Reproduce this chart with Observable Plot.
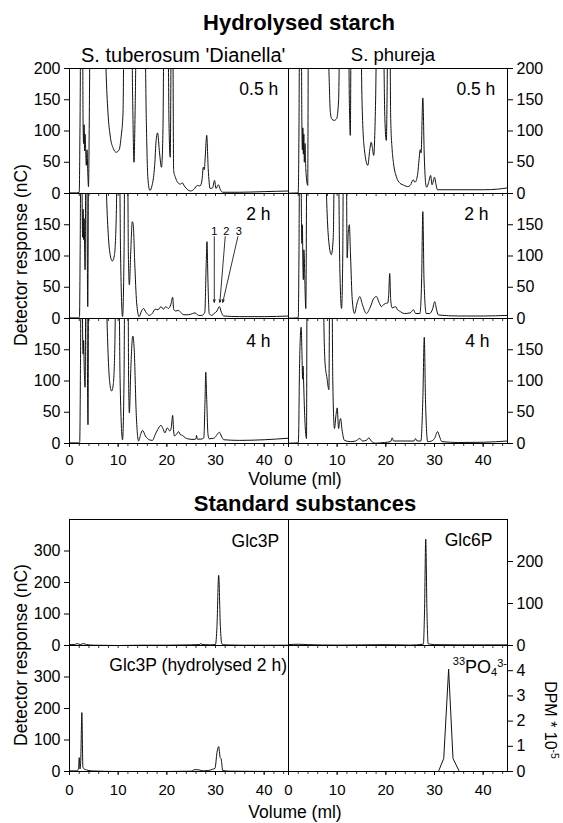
<!DOCTYPE html>
<html><head><meta charset="utf-8">
<script src="https://cdn.jsdelivr.net/npm/d3@7"></script>
<script src="https://cdn.jsdelivr.net/npm/@observablehq/plot@0.6"></script>
<style>
body{margin:0;background:#fff;}
#root{position:relative;width:563px;height:823px;overflow:hidden;font-family:"Liberation Sans",Arial,Helvetica,sans-serif;color:#000;background:#fff;}
.abs{position:absolute;white-space:nowrap;line-height:1;}
.abs sup{font-size:0.65em;vertical-align:0.55em;line-height:0;}
</style></head><body><div id="root"></div>
<script>
// ---------- data ----------
const volumeTicks = [0, 10, 20, 30, 40];
const minorTicks = [0, 2, 4, 6, 8, 10, 12, 14, 16, 18, 20, 22, 24, 26, 28, 30, 32, 34, 36, 38, 40, 42, 44];
const topYTicksFirst = [0, 50, 100, 150, 200];
const topYTicks = [0, 50, 100, 150];
const ncTicksLeft = [0, 100, 200, 300];
const ncTicksGlc6P = [0, 100, 200];
const dpmTicks = [0, 1, 2, 3, 4];

// S. tuberosum 'Dianella', 0.5 h
const tub05X = [0,1.5,2.0,2.15,2.35,2.65,2.8,2.9,3.0,3.1,3.2,3.3,3.45,3.6,3.75,3.9,4.1,4.25,4.4,7.2,7.5,7.9,8.4,9.0,9.6,10.2,10.6,11.0,11.25,11.5,12.7,13.0,13.25,13.5,13.8,15.4,15.8,16.1,16.5,17.0,17.5,17.8,18.1,18.5,18.9,19.2,19.45,20.2,20.45,20.7,20.95,21.2,21.4,21.8,22.2,22.8,23.2,23.6,24.3,24.9,25.6,26.3,26.8,27.2,27.5,27.7,27.9,28.2,28.5,28.9,29.4,29.8,30.1,30.6,31.0,31.5,35,40,45];
const tub05Y = [1,1,2,100,300,300,108,80,110,68,95,76,45,70,35,11,150,300,300,300,200,130,90,72,66,70,90,130,300,300,300,140,50,140,300,300,110,25,5,14,45,85,97,65,42,100,300,300,110,58,300,300,37,25,18,15,17,12,6,4,7,13,12,20,42,38,60,93,40,8,9,21,8,14,6,2,2,3,4];
// S. tuberosum 'Dianella', 2 h
const tub2X = [0,1.8,2.05,2.2,2.35,2.55,2.6,2.7,2.8,2.9,3.0,3.2,3.4,3.5,3.75,3.95,7.3,7.6,8.0,8.4,8.8,9.2,9.6,9.9,10.2,10.5,10.9,11.2,11.4,11.9,12.1,12.3,12.6,12.9,13.1,13.4,13.8,14.3,14.8,15.2,15.7,16.4,17.0,17.6,18.2,18.8,19.3,19.8,20.3,20.8,21.2,21.4,21.8,22.4,22.8,23.5,24.5,25.3,25.8,26.5,27.2,27.8,28.1,28.25,28.45,28.7,29.2,29.7,30.3,30.8,31.2,31.7,35,40,45];
const tub2Y = [1,1,2,120,300,300,185,130,175,126,160,78,300,300,19,300,300,200,130,100,92,100,160,300,300,100,3,100,300,300,100,54,110,155,150,90,25,3,12,16,10,5,8,15,14,19,15,19,16,22,34,15,12,13,10,6,6,8,9,5,5,10,90,123,60,8,5,8,12,19,10,4,3,3,4];
// S. tuberosum 'Dianella', 4 h
const tub4X = [0,1.9,2.1,2.25,2.4,2.6,2.7,2.8,2.9,3.0,3.2,3.4,3.5,3.8,3.95,7.4,7.7,8.0,8.3,8.66,9.0,9.3,9.6,10.1,10.4,10.9,11.2,11.4,12.0,12.15,12.3,12.6,13.0,13.3,13.7,14.2,14.6,15.0,15.6,16.4,17.05,17.6,18.1,18.8,19.2,19.6,20.1,20.6,20.9,21.2,21.4,21.6,22.0,22.4,22.8,23.2,23.8,24.3,25.6,26.0,26.1,26.25,27.0,27.6,27.85,28.0,28.2,28.45,28.7,29.3,29.8,30.3,30.8,31.2,31.7,35,40,45];
const tub4Y = [1,1,2,120,300,300,172,143,165,130,90,300,300,30,300,300,200,130,95,84,95,150,300,300,100,6,100,300,300,100,49,120,172,150,50,4,14,21,12,6,5,14,22,29,24,17,25,20,25,45,20,12,15,19,14,13,9,7.5,6.5,8,13,7,7,9,70,114,70,15,7.5,8,9,14,18,12,6,5,6,8.5];
// S. phureja, 0.5 h
const phu05X = [0,2.0,2.15,2.3,2.6,2.75,2.85,2.95,3.05,3.15,3.25,3.4,3.55,3.95,4.1,8.0,8.3,8.6,8.9,9.4,9.9,10.3,10.6,12.3,12.5,12.7,12.9,14.8,15.1,15.6,16.3,16.7,17.0,17.3,17.5,17.9,18.2,19.4,19.8,20.1,20.5,20.8,21.0,21.3,21.6,22.2,22.9,23.8,24.5,25.1,25.6,26.0,26.5,26.9,27.05,27.25,27.6,27.9,28.2,28.4,28.8,29.2,29.5,30.0,30.3,30.6,35,40,43,45];
const phu05Y = [0.5,1,100,300,300,111,70,105,63,95,50,80,40,13,300,300,200,130,119,117,120,150,300,300,150,93,300,300,150,70,45,70,82,70,61,150,300,300,120,85,300,300,120,70,47,26,16.5,13,11,14,22,18,29,60,70,65,153,60,15,10,18,29,14,26,15,6,6,6,7,9];
// S. phureja, 2 h
const phu2X = [0,2.0,2.15,2.3,2.55,2.65,2.75,2.85,2.95,3.05,3.15,3.56,3.8,7.5,7.8,8.2,8.8,9.2,9.5,10.2,10.5,10.9,11.15,11.3,11.85,12.05,12.3,12.5,12.75,13.1,13.55,14.1,14.65,15.2,16.0,16.8,17.5,18.07,18.6,19.1,19.5,19.9,20.4,20.6,20.8,21.0,21.3,21.7,22.0,22.4,22.8,23.8,25.0,25.7,26.1,27.0,27.35,27.6,27.85,28.3,29.0,29.6,30.05,30.4,30.8,35,40,45];
const phu2Y = [0.5,1,100,300,300,169,120,150,89,62,110,16,300,300,200,130,102,130,300,300,100,16,100,300,300,97,140,150,100,30,8,25,35,22,8,18,32,35,26,19,22,24,25,40,72,30,17,18,19,14,12,8,9,14,8,8,60,171,60,8,8,15,27,15,5.6,4,4,5];
// S. phureja, 4 h
const phu4X = [0,2.0,2.1,2.26,2.6,2.75,2.9,3.0,3.1,3.3,3.7,3.83,7.1,7.3,7.5,7.9,8.3,8.5,8.9,9.1,9.45,9.75,10.0,10.3,10.5,10.7,11.0,11.5,12.7,13.8,14.65,15.2,16.0,16.5,17.0,17.9,19.7,21.0,21.3,21.6,24.0,25.8,26.1,26.4,27.2,27.6,27.9,28.15,28.6,29.4,30.0,30.65,31.0,31.5,35,40,45];
const phu4Y = [0.5,1,20,120,186,150,103,124,100,50,8,300,300,180,130,105,86,300,300,100,24,45,57,24,35,40,22,5,3,4,8,4,5,9,4,0.5,1.6,3,9,4,4,4,8,4,4,70,170,70,3,4,8,19,12,3,1.6,2,4];

// Standard substances
const glc3pX = [0,1.0,1.6,2.2,2.9,3.5,5,10,15,20,25,26.8,27.0,27.2,29,30.0,30.3,30.65,31.0,31.3,32,35,40,45];
const glc3pY = [3,3,6,3,6,3,1,0,1,1,2,3,7,3,2,3,60,223,60,5,2,1,1,1];
const glc6pX = [0,2,4,10,20,25,27.7,27.95,28.2,28.45,28.7,29.2,30,35,45];
const glc6pY = [2,3,2,1,2,1,3,80,253,80,4,3,2,1.5,1.5];
const glc3pHydX = [0,1.6,1.85,2.0,2.15,2.3,2.54,2.75,3.0,3.5,4.5,10,20,25,25.8,26.6,27.5,28.5,29.4,29.9,30.3,30.65,30.95,31.15,31.5,33,45];
const glc3pHydY = [2,2,10,44,8,30,187,15,8,5,2,0,0,1,6,5,2,3,7,10,60,79,45,40,3,1,0];
const po4X = [30.9, 31.9, 32.9, 33.8, 35.0];
const po4Dpm = [0.04, 0.52, 4.06, 0.52, 0.04];

// peak markers in the 2 h Dianella panel
const peakLabels = ["1", "2", "3"];
const peakLabelX = [29.75, 32.2, 34.8];
const peakArrowX1 = [29.75, 32.0, 34.6];
const peakArrowX2 = [29.75, 30.9, 31.5];
const peakArrowY1 = 131, peakArrowY2 = 26, peakLabelY = 140;

// ---------- helpers ----------
const zip = (xs, ys) => xs.map((x, i) => ({x, y: ys[i]}));
const root = document.getElementById("root");
const FONT = '"Liberation Sans", Arial, Helvetica, sans-serif';

function addText(html, {x, y, size, weight = "normal", anchor = "start", rotate = 0}) {
  const d = document.createElement("div");
  d.className = "abs";
  d.innerHTML = html;
  d.style.fontSize = size + "px";
  d.style.fontWeight = weight;
  if (rotate) {
    d.style.left = x + "px";
    d.style.top = y + "px";
    d.style.transform = `translate(-50%,-50%) rotate(${rotate}deg)`;
  } else {
    d.style.left = x + "px";
    d.style.top = (y - 0.8465 * size) + "px";
    if (anchor === "middle") d.style.transform = "translateX(-50%)";
  }
  root.appendChild(d);
}

function panel(o) {
  const mL = 52, mR = 52, mT = 14, mB = 36;
  const marks = [
    Plot.line(o.data, {x: "x", y: "y", curve: o.curve || "monotone-x", stroke: "#111", strokeWidth: 1, clip: true}),
    Plot.frame({stroke: "#000", strokeWidth: 1}),
    Plot.axisX(minorTicks, {tickSize: 3, tickFormat: () => "", label: null, strokeWidth: 0.8}),
    Plot.axisY(o.yTicks, {anchor: o.side, tickSize: 5, tickPadding: 4, fontSize: 16, label: null})
  ];
  if (o.xLabels) marks.push(Plot.axisX(volumeTicks, {tickSize: 4, tickPadding: o.xPad, fontSize: 15, label: null}));
  if (o.label) marks.push(Plot.text([o.label], {x: "x", y: "y", text: "t", textAnchor: "end", fontSize: 17.5}));
  if (o.extra) marks.push(...o.extra);
  const svg = Plot.plot({
    width: o.fw + mL + mR, height: o.fh + mT + mB,
    marginLeft: mL, marginRight: mR, marginTop: mT, marginBottom: mB,
    x: {domain: [0, 45]}, y: {domain: o.yDomain},
    style: {background: "transparent", fontFamily: FONT, fontSize: "15px", color: "#000", overflow: "visible"},
    marks
  });
  svg.style.position = "absolute";
  svg.style.left = (o.fl - mL) + "px";
  svg.style.top = (o.ft - mT) + "px";
  root.appendChild(svg);
  return svg;
}

// ---------- layout ----------
const L = 69, R = 288, FW = 219;
const rowsTop = [68, 193, 318];
const rowsBottom = [519, 645];

const arrows = peakArrowX1.map((x1, i) => ({x1, x2: peakArrowX2[i], y1: peakArrowY1, y2: peakArrowY2}));
const pLabels = peakLabels.map((t, i) => ({x: peakLabelX[i], y: peakLabelY, t}));

panel({data: zip(tub05X, tub05Y), fl: L, ft: rowsTop[0], fw: FW, fh: 125, yDomain: [0, 200], yTicks: topYTicksFirst, side: "left", label: {x: 42.9, y: 167, t: "0.5 h"}});
panel({data: zip(tub2X, tub2Y), fl: L, ft: rowsTop[1], fw: FW, fh: 125, yDomain: [0, 200], yTicks: topYTicks, side: "left", label: {x: 41.3, y: 167, t: "2 h"},
  extra: [
    Plot.arrow(arrows, {x1: "x1", y1: "y1", x2: "x2", y2: "y2", stroke: "#000", strokeWidth: 0.8, headLength: 5, headAngle: 40}),
    Plot.text(pLabels, {x: "x", y: "y", text: "t", fontSize: 11})
  ]});
panel({data: zip(tub4X, tub4Y), fl: L, ft: rowsTop[2], fw: FW, fh: 125, yDomain: [0, 200], yTicks: topYTicks, side: "left", label: {x: 41.3, y: 164, t: "4 h"}, xLabels: true, xPad: 7});

panel({data: zip(phu05X, phu05Y), fl: R, ft: rowsTop[0], fw: FW, fh: 125, yDomain: [0, 200], yTicks: topYTicksFirst, side: "right", label: {x: 42.5, y: 167, t: "0.5 h"}});
panel({data: zip(phu2X, phu2Y), fl: R, ft: rowsTop[1], fw: FW, fh: 125, yDomain: [0, 200], yTicks: topYTicks, side: "right", label: {x: 41.1, y: 167, t: "2 h"}});
panel({data: zip(phu4X, phu4Y), fl: R, ft: rowsTop[2], fw: FW, fh: 125, yDomain: [0, 200], yTicks: topYTicks, side: "right", label: {x: 41.3, y: 164, t: "4 h"}, xLabels: true, xPad: 7});

panel({data: zip(glc3pX, glc3pY), fl: L, ft: rowsBottom[0], fw: FW, fh: 126, yDomain: [0, 400], yTicks: ncTicksLeft, side: "left", label: {x: 43.1, y: 330, t: "Glc3P"}});
panel({data: zip(glc3pHydX, glc3pHydY), fl: L, ft: rowsBottom[1], fw: FW, fh: 126, yDomain: [0, 400], yTicks: ncTicksLeft, side: "left", label: {x: 44.7, y: 336, t: "Glc3P (hydrolysed 2 h)"}, xLabels: true, xPad: 9});
panel({data: zip(glc6pX, glc6pY), fl: R, ft: rowsBottom[0], fw: FW, fh: 126, yDomain: [0, 300], yTicks: ncTicksGlc6P, side: "right", label: {x: 41.9, y: 250, t: "Glc6P"}});
const po4svg = panel({data: zip(po4X, po4Dpm), curve: "linear", fl: R, ft: rowsBottom[1], fw: FW, fh: 126, yDomain: [0, 5], yTicks: dpmTicks, side: "right", label: {x: 44.9, y: 4.25, t: "PO4"}, xLabels: true, xPad: 9});

// rich formatting of the phosphate label
d3.select(po4svg).selectAll("text").filter(function () { return this.textContent === "PO4"; })
  .each(function () {
    const t = d3.select(this);
    t.text(null);
    t.append("tspan").attr("font-size", 11).attr("dy", "-0.45em").text("33");
    t.append("tspan").attr("font-size", 18).attr("dy", "0.45em").text("PO");
    t.append("tspan").attr("font-size", 11).attr("dy", "0.3em").text("4");
    t.append("tspan").attr("font-size", 11).attr("dy", "-0.85em").text("3-");
  });

// ---------- titles and axis labels ----------
addText("Hydrolysed starch", {x: 299, y: 30.5, size: 22, weight: "bold", anchor: "middle"});
addText("S. tuberosum 'Dianella'", {x: 81, y: 62, size: 20});
addText("S. phureja", {x: 393, y: 62, size: 18.5, anchor: "middle"});
addText("Detector response (nC)", {x: 22, y: 255, size: 17.5, rotate: -90});
addText("Volume (ml)", {x: 295, y: 486, size: 17.5, anchor: "middle"});
addText("Standard substances", {x: 305, y: 512, size: 22, weight: "bold", anchor: "middle"});
addText("Detector response (nC)", {x: 22, y: 655, size: 17.5, rotate: -90});
addText("Volume (ml)", {x: 295, y: 819, size: 17.5, anchor: "middle"});
addText("DPM * 10<sup>-5</sup>", {x: 550, y: 720, size: 16, rotate: 90});
</script></body></html>
